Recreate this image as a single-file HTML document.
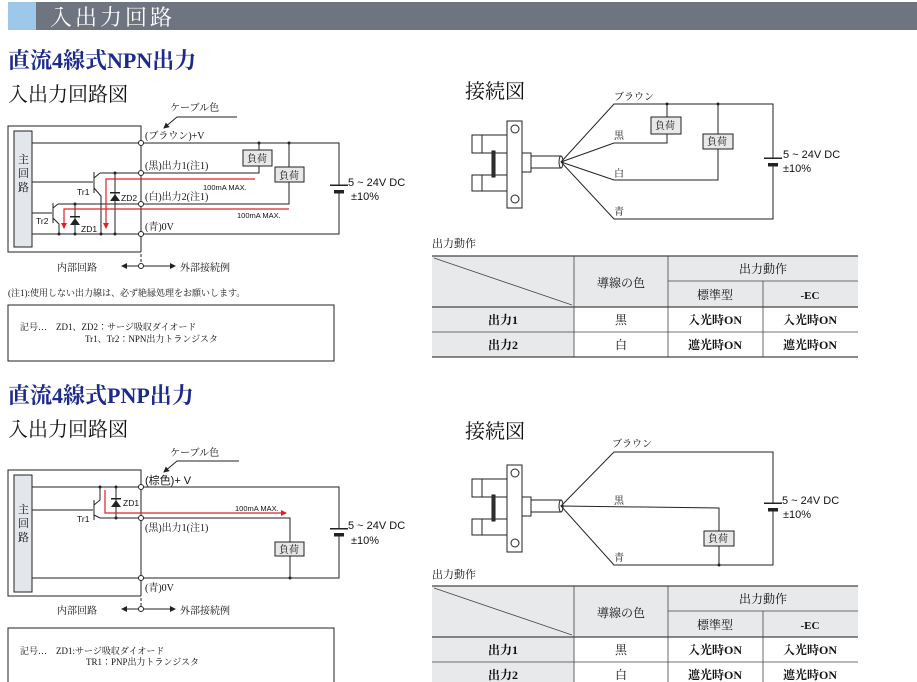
<!DOCTYPE html>
<html><head><meta charset="utf-8"><style>
html,body{margin:0;padding:0;background:#fff}
svg{display:block}
.s{font-family:"Liberation Serif","Noto Serif CJK JP",serif}
.a{font-family:"Liberation Sans","Noto Sans CJK JP",sans-serif}
</style></head><body>
<svg width="917" height="682" viewBox="0 0 917 682" xmlns="http://www.w3.org/2000/svg">
<defs>
<marker id="ar" markerWidth="6" markerHeight="6" refX="5" refY="3" orient="auto" markerUnits="userSpaceOnUse"><path d="M0,0 L6,3 L0,6 z" fill="#e0202a"/></marker>
<marker id="ak" markerWidth="6" markerHeight="6" refX="5" refY="3" orient="auto-start-reverse" markerUnits="userSpaceOnUse"><path d="M0,0 L6,3 L0,6 z" fill="#222"/></marker>
</defs>
<!-- header -->
<rect x="8" y="2" width="28" height="28" fill="#9dc8ea"/>
<rect x="36" y="2" width="881" height="28" fill="#6e7480"/>
<text x="50" y="25" class="s" font-size="22" fill="#fff" letter-spacing="3">入出力回路</text>

<!-- ===== NPN ===== -->
<text x="8" y="68" class="s" font-size="22" font-weight="bold" fill="#1c2a8a">直流4線式NPN出力</text>
<text x="8" y="101" class="s" font-size="20" fill="#111">入出力回路図</text>

<g stroke="#222" stroke-width="1" fill="none">
<path d="M141,252 V126 H8 V252 H141"/>
<path d="M141,254 V262" stroke-dasharray="3,2"/>
<path d="M32,143 H339 V185 M339,192 V234 H32"/>
<path d="M259,143 V150 M259,166 V173 H100"/>
<path d="M289,143 V167 M289,182 V204 H58"/>
<path d="M32,182 H93 M94,172 V193 M94,178 L100,173 M94,188 L101,196 V234"/>
<path d="M32,213 H52 M53,203 V223 M53,208 L58,204 M53,218 L59,224 V234"/>
<path d="M115,173 V234 M75,204 V234"/>
<path d="M237,117 H177 L164,128" marker-end="url(#ak)"/>
</g>
<g fill="#222">
<path d="M110,201 L120,201 L115,194 z"/><rect x="110" y="192" width="10" height="1.5"/>
<path d="M70,225 L80,225 L75,218 z"/><rect x="70" y="216" width="10" height="1.5"/>
<circle cx="259" cy="143" r="1.5"/><circle cx="289" cy="143" r="1.5"/>
<circle cx="101" cy="234" r="1.5"/><circle cx="115" cy="234" r="1.5"/><circle cx="115" cy="173" r="1.5"/>
<circle cx="59" cy="234" r="1.5"/><circle cx="75" cy="234" r="1.5"/><circle cx="75" cy="204" r="1.5"/>
<rect x="330" y="184.5" width="18" height="1.5"/><rect x="334" y="190" width="10" height="3.5"/>
</g>
<g fill="#fff" stroke="#222"><circle cx="141" cy="143" r="2.5"/><circle cx="141" cy="173" r="2.5"/><circle cx="141" cy="204" r="2.5"/><circle cx="141" cy="234" r="2.5"/></g>
<rect x="14" y="131" width="18" height="116" fill="#e3e6ea" stroke="#222"/>
<text class="s" font-size="11" fill="#111"><tspan x="18" y="163">主</tspan><tspan x="18" y="177">回</tspan><tspan x="18" y="191">路</tspan></text>
<g fill="#e8e8e8" stroke="#222"><rect x="243" y="150" width="29" height="16"/><rect x="275" y="167" width="29" height="15"/></g>
<text class="s" font-size="10" fill="#111"><tspan x="247" y="162">負荷</tspan><tspan x="279" y="179">負荷</tspan></text>
<g stroke="#e0202a" stroke-width="1.2" fill="none">
<path d="M255,179 H106 V228" marker-end="url(#ar)"/>
<path d="M289,209 H64 V228" marker-end="url(#ar)"/>
</g>
<g class="a" font-size="7.5" fill="#111"><text x="203" y="190">100mA MAX.</text><text x="237" y="218">100mA MAX.</text>
<text x="77" y="195" font-size="8.5">Tr1</text><text x="36" y="224" font-size="8.5">Tr2</text>
<text x="121" y="201" font-size="8.5">ZD2</text><text x="81" y="232" font-size="8.5">ZD1</text></g>
<g class="s" font-size="10" fill="#111">
<text x="145" y="139">(ブラウン)+V</text><text x="145" y="169">(黒)出力1(注1)</text>
<text x="145" y="200">(白)出力2(注1)</text><text x="145" y="230">(青)0V</text>
<text x="170" y="111">ケーブル色</text>
<text x="57" y="271">内部回路</text><text x="180" y="271">外部接続例</text>
<text x="8" y="296" font-size="9">(注1):使用しない出力線は、必ず絶縁処理をお願いします。</text>
<text x="20" y="330" font-size="9">記号…　ZD1、ZD2：サージ吸収ダイオード</text>
<text x="85" y="342" font-size="9">Tr1、Tr2：NPN出力トランジスタ</text>
</g>
<g class="a" font-size="11" fill="#111"><text x="348" y="186">5 ~ 24V DC</text><text x="351" y="200">±10%</text></g>
<g stroke="#222" fill="none"><path d="M122,266 H175" marker-start="url(#ak)" marker-end="url(#ak)"/></g>
<circle cx="141" cy="266" r="2.5" fill="#fff" stroke="#222"/>
<rect x="8" y="305" width="326" height="56" fill="none" stroke="#222"/>

<!-- NPN connection -->
<text x="465" y="98" class="s" font-size="20" fill="#111">接続図</text>
<g id="sensor" stroke="#222" fill="#fff">
<rect x="472" y="135" width="35" height="18"/><rect x="472" y="175" width="35" height="16"/>
<line x1="482" y1="135" x2="482" y2="153"/><line x1="482" y1="175" x2="482" y2="191"/>
<rect x="492" y="151" width="3" height="26" fill="#333"/>
<rect x="507" y="121" width="15" height="87"/>
<circle cx="515" cy="129" r="4"/><circle cx="515" cy="199" r="4"/>
<rect x="522" y="153" width="9" height="19"/>
<rect x="531" y="156" width="30" height="12"/>
<ellipse cx="561" cy="162" rx="2" ry="6"/>
</g>
<g stroke="#222" fill="none">
<path d="M561,162 L614,104 H773 V158 M773,165 V219 H614 L561,162 L614,143 H667 V134 M667,117 V104 M561,162 L614,180 H718 V149 M718,134 V104"/>
</g>
<g fill="#222"><rect x="764" y="157.5" width="18" height="1.5"/><rect x="768" y="163" width="10" height="3.5"/><circle cx="667" cy="104" r="1.5"/><circle cx="718" cy="104" r="1.5"/></g>
<g fill="#e8e8e8" stroke="#222"><rect x="651" y="117" width="30" height="17"/><rect x="703" y="134" width="30" height="15"/></g>
<g class="s" font-size="10" fill="#111"><text x="655" y="129">負荷</text><text x="707" y="145">負荷</text>
<text x="614" y="100">ブラウン</text><text x="614" y="139">黒</text><text x="614" y="177">白</text><text x="614" y="215">青</text></g>
<g class="a" font-size="11" fill="#111"><text x="783" y="158">5 ~ 24V DC</text><text x="783" y="172">±10%</text></g>

<!-- table 1 -->
<text x="432" y="247" class="s" font-size="11" fill="#111">出力動作</text>
<g id="tbl">
<rect x="432" y="256" width="426" height="51" fill="#e8e9eb"/>
<rect x="432" y="307" width="142" height="50" fill="#e8e9eb"/>
<g stroke="#444" stroke-width="0.8" fill="none">
<line x1="432" y1="256" x2="858" y2="256" stroke-width="1.2"/>
<line x1="668" y1="281" x2="858" y2="281"/>
<line x1="432" y1="307" x2="858" y2="307" stroke-width="1.2"/>
<line x1="432" y1="332" x2="858" y2="332"/>
<line x1="432" y1="357" x2="858" y2="357" stroke-width="1.2"/>
<line x1="574" y1="256" x2="574" y2="357"/><line x1="668" y1="256" x2="668" y2="357"/><line x1="763" y1="281" x2="763" y2="357"/>
<line x1="434" y1="258" x2="572" y2="305"/>
</g>
<g class="s" font-size="12" fill="#111" text-anchor="middle">
<text x="621" y="287">導線の色</text><text x="763" y="273">出力動作</text>
<text x="715" y="299">標準型</text><text x="810" y="299" font-weight="bold" font-size="11">-EC</text>
<text x="503" y="324" font-weight="bold">出力1</text><text x="621" y="324">黒</text>
<text x="715" y="324" font-weight="bold">入光時ON</text><text x="810" y="324" font-weight="bold">入光時ON</text>
<text x="503" y="349" font-weight="bold">出力2</text><text x="621" y="349">白</text>
<text x="715" y="349" font-weight="bold">遮光時ON</text><text x="810" y="349" font-weight="bold">遮光時ON</text>
</g>
</g>

<!-- ===== PNP ===== -->
<text x="8" y="403" class="s" font-size="22" font-weight="bold" fill="#1c2a8a">直流4線式PNP出力</text>
<text x="8" y="436" class="s" font-size="20" fill="#111">入出力回路図</text>
<g stroke="#222" stroke-width="1" fill="none">
<path d="M141,596 V470 H8 V596 H141"/>
<path d="M141,598 V606" stroke-dasharray="3,2"/>
<path d="M32,487 H339 V528 M339,535 V578 H32"/>
<path d="M32,510 H93 M94,500 V520 M94,505 L100,500 V487 M94,515 L100,518 H290 V543 M290,555 V578"/>
<path d="M116,487 V518"/>
<path d="M239,461 H177 L164,472" marker-end="url(#ak)"/>
</g>
<g fill="#222">
<path d="M111,507 L121,507 L116,500 z"/><rect x="111" y="498" width="10" height="1.5"/>
<circle cx="100" cy="487" r="1.5"/><circle cx="116" cy="487" r="1.5"/><circle cx="116" cy="518" r="1.5"/><circle cx="290" cy="578" r="1.5"/>
<rect x="330" y="528" width="18" height="1.5"/><rect x="334" y="533" width="10" height="3.5"/>
</g>
<g fill="#fff" stroke="#222"><circle cx="141" cy="487" r="2.5"/><circle cx="141" cy="518" r="2.5"/><circle cx="141" cy="578" r="2.5"/></g>
<rect x="14" y="475" width="18" height="117" fill="#e3e6ea" stroke="#222"/>
<text class="s" font-size="11" fill="#111"><tspan x="18" y="513">主</tspan><tspan x="18" y="527">回</tspan><tspan x="18" y="541">路</tspan></text>
<rect x="275" y="542" width="29" height="14" fill="#e8e8e8" stroke="#222"/>
<text x="279" y="553" class="s" font-size="10" fill="#111">負荷</text>
<path d="M105,490 V513 H286" stroke="#e0202a" stroke-width="1.2" fill="none" marker-end="url(#ar)"/>
<g class="a" font-size="7.5" fill="#111"><text x="235" y="511">100mA MAX.</text>
<text x="77" y="522" font-size="8.5">Tr1</text><text x="123" y="506" font-size="8.5">ZD1</text></g>
<g class="s" font-size="10" fill="#111">
<text x="145" y="484" class="a" font-size="11">(棕色)+ V</text><text x="145" y="531">(黒)出力1(注1)</text><text x="145" y="591">(青)0V</text>
<text x="170" y="456">ケーブル色</text>
<text x="57" y="614">内部回路</text><text x="180" y="614">外部接続例</text>
<text x="20" y="654" font-size="9">記号…　ZD1:サージ吸収ダイオード</text>
<text x="86" y="665" font-size="9">TR1：PNP出力トランジスタ</text>
</g>
<g class="a" font-size="11" fill="#111"><text x="348" y="529">5 ~ 24V DC</text><text x="351" y="544">±10%</text></g>
<path d="M122,609 H175" stroke="#222" fill="none" marker-start="url(#ak)" marker-end="url(#ak)"/>
<circle cx="141" cy="609" r="2.5" fill="#fff" stroke="#222"/>
<rect x="8" y="628" width="326" height="60" fill="none" stroke="#222"/>

<text x="465" y="438" class="s" font-size="20" fill="#111">接続図</text>
<use href="#sensor" transform="translate(0,344)"/>
<g stroke="#222" fill="none">
<path d="M561,506 L614,452 H773 V503 M773,510 V565 H614 L561,506 L719,508 V531 M719,546 V565"/>
</g>
<g fill="#222"><rect x="764" y="502.5" width="18" height="1.5"/><rect x="768" y="508" width="10" height="3.5"/><circle cx="719" cy="565" r="1.5"/></g>
<rect x="704" y="531" width="30" height="15" fill="#e8e8e8" stroke="#222"/>
<g class="s" font-size="10" fill="#111"><text x="708" y="542">負荷</text>
<text x="612" y="447">ブラウン</text><text x="614" y="504">黒</text><text x="614" y="561">青</text></g>
<g class="a" font-size="11" fill="#111"><text x="782" y="504">5 ~ 24V DC</text><text x="783" y="518">±10%</text></g>
<text x="432" y="578" class="s" font-size="11" fill="#111">出力動作</text>
<use href="#tbl" transform="translate(0,330)"/>
</svg>
</body></html>
